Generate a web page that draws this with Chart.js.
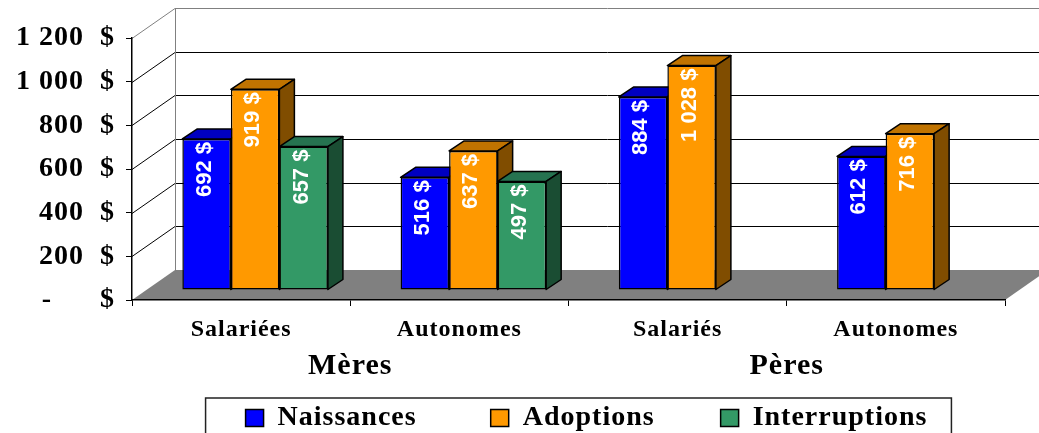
<!DOCTYPE html>
<html>
<head>
<meta charset="utf-8">
<script src="https://cdn.jsdelivr.net/npm/chart.js@4/dist/chart.umd.min.js"></script>
<style>
body{margin:0;background:#fff;}
#wrap{width:1039px;height:433px;position:relative;}
</style>
</head>
<body>
<div id="wrap"><canvas id="barChart"></canvas></div>
<script>

const categories = ['Salariées','Autonomes','Salariés','Autonomes'];
const groups = ['Mères','Pères'];
const seriesNames = ['Naissances','Adoptions','Interruptions'];
const naissances = [692,516,884,612];
const adoptions = [919,637,1028,716];
const interruptions = [657,497,null,null];
const yTicks = [0,200,400,600,800,1000,1200];

const frontColors = ['#0000FF','#FF9900','#339966'];
const topColors = ['#0000C0','#C07300','#267350'];
const sideColors = ['#000080','#804D00','#1A4D33'];

// offsets of the fake 3d
const FRONT = {x:14, y:-10};
const DEPTH = {x:15, y:-10};
const WALL = {x:43, y:-30};
const LEGEND_SHIFT = 18;
const legendGaps = [8,7,0];

const serif = '"Liberation Serif", "Times New Roman", serif';

function money(v){
    return String(v).replace(/\B(?=(\d{3})+(?!\d))/g, ' ');
}

function poly(ctx, pts, fill){
    ctx.beginPath();
    ctx.moveTo(pts[0][0], pts[0][1]);
    for(let k = 1; k < pts.length; k++){
        ctx.lineTo(pts[k][0], pts[k][1]);
    }
    ctx.closePath();
    ctx.fillStyle = fill;
    ctx.fill();
    ctx.stroke();
}

const threeD = {

    id:'threeD',

    beforeLayout(chart){
        chart.ctx.letterSpacing = '1px';
    },

    afterLayout(chart){
        chart.legend.left += LEGEND_SHIFT;
        chart.legend.right += LEGEND_SHIFT;
    },

    beforeDraw(chart){

        let ctx = chart.ctx;
        let a = chart.chartArea;
        let ys = chart.scales.y;

        ctx.save();

        ctx.fillStyle = '#808080';
        ctx.beginPath();
        ctx.moveTo(a.left, a.bottom);
        ctx.lineTo(a.left + WALL.x, a.bottom + WALL.y);
        ctx.lineTo(a.right + WALL.x, a.bottom + WALL.y);
        ctx.lineTo(a.right, a.bottom);
        ctx.closePath();
        ctx.fill();

        ctx.lineWidth = 1;
        ctx.strokeStyle = '#000';
        yTicks.forEach(v => {
            if(v === 0 || v === yTicks[yTicks.length - 1]) return;
            let py = Math.round(ys.getPixelForValue(v)) + 0.5;
            ctx.beginPath();
            ctx.moveTo(a.left, py);
            ctx.lineTo(a.left + WALL.x, py + WALL.y);
            ctx.lineTo(a.right + WALL.x + 50, py + WALL.y);
            ctx.stroke();
        });

        let top = Math.round(a.top) + 0.5;
        ctx.strokeStyle = '#808080';
        ctx.beginPath();
        ctx.moveTo(a.left, top);
        ctx.lineTo(a.left + WALL.x, top + WALL.y);
        ctx.lineTo(a.right + WALL.x + 50, top + WALL.y);
        ctx.moveTo(a.left + WALL.x + 0.5, top + WALL.y);
        ctx.lineTo(a.left + WALL.x + 0.5, a.bottom + WALL.y);
        ctx.stroke();

        ctx.restore();
    },

    beforeDatasetsDraw(chart){

        let ctx = chart.ctx;
        let metas = seriesNames.map((n, i) => chart.getDatasetMeta(i));

        categories.forEach((c, j) => {
            metas.forEach((meta, i) => {

                let value = chart.data.datasets[i].data[j];
                if(value === null) return;

                let bar = meta.data[j];
                let p = bar.getProps(['x','y','base','width'], true);
                let l = p.x - p.width / 2 + FRONT.x;
                let r = p.x + p.width / 2 + FRONT.x;
                let t = p.y + FRONT.y;
                let b = p.base + FRONT.y;

                ctx.save();
                ctx.translate(FRONT.x, FRONT.y);
                bar.draw(ctx);
                ctx.restore();

                ctx.save();
                ctx.lineWidth = 1.5;
                ctx.strokeStyle = '#000';
                ctx.lineJoin = 'round';
                poly(ctx, [[l,t],[r,t],[r + DEPTH.x, t + DEPTH.y],[l + DEPTH.x, t + DEPTH.y]], topColors[i]);
                poly(ctx, [[r,t],[r + DEPTH.x, t + DEPTH.y],[r + DEPTH.x, b + DEPTH.y],[r,b]], sideColors[i]);

                ctx.translate((l + r) / 2 - 2, t + 3);
                ctx.rotate(-Math.PI / 2);
                ctx.letterSpacing = '0px';
                ctx.font = 'bold 22px "Liberation Sans", Arial, sans-serif';
                ctx.fillStyle = '#fff';
                ctx.textAlign = 'right';
                ctx.textBaseline = 'middle';
                ctx.fillText(money(value) + ' $', 0, 0);
                ctx.restore();
            });
        });

        return false;
    },

    afterDraw(chart){

        let ctx = chart.ctx;
        let boxes = chart.legend.legendHitBoxes;
        let first = boxes[0];
        let last = boxes[boxes.length - 1];
        let x0 = first.left - 40;
        let x1 = last.left + last.width + 24;

        ctx.save();
        ctx.strokeStyle = '#222';
        ctx.lineWidth = 1.5;
        ctx.strokeRect(x0, first.top - 6, x1 - x0, 80);
        ctx.restore();
    }
};

const ctxBar = document.getElementById('barChart');

new Chart(ctxBar, {

    type:'bar',

    data:{
        labels:categories,
        datasets:[
            {label:seriesNames[0], data:naissances, backgroundColor:frontColors[0]},
            {label:seriesNames[1], data:adoptions, backgroundColor:frontColors[1]},
            {label:seriesNames[2], data:interruptions, backgroundColor:frontColors[2]}
        ]
    },

    options:{
        responsive:true,
        maintainAspectRatio:false,
        animation:false,
        events:[],
        layout:{
            padding:{top:38, right:34, bottom:-9, left:0}
        },
        datasets:{
            bar:{
                categoryPercentage:0.667,
                barPercentage:1,
                borderColor:'#000',
                borderWidth:1.5,
                borderSkipped:false
            }
        },
        scales:{
            x:{
                offset:true,
                grid:{offset:true, drawOnChartArea:false, tickLength:6, color:'#000'},
                border:{color:'#000', width:1.5},
                ticks:{color:'#000', padding:9, font:{family:serif, size:24, weight:'bold'}},
                afterFit(s){ s.height = 38; }
            },
            x2:{
                type:'category',
                labels:groups,
                position:'bottom',
                offset:true,
                weight:1,
                grid:{display:false},
                border:{display:false},
                ticks:{color:'#000', padding:2, font:{family:serif, size:30, weight:'bold'}},
                afterFit(s){ s.height = 56; }
            },
            y:{
                min:0,
                max:1200,
                grid:{drawOnChartArea:false, tickLength:6, color:'#000'},
                border:{color:'#000', width:1.5},
                afterBuildTicks(s){ s.ticks = yTicks.map(v => ({value:v})); },
                ticks:{
                    color:'#000',
                    padding:11,
                    font:{family:serif, size:28, weight:'bold'},
                    callback(v){
                        if(v === 0) return '-      $';
                        return money(v) + '  $';
                    }
                },
                afterFit(s){ s.width = 132; }
            }
        },
        plugins:{
            tooltip:{enabled:false},
            legend:{
                position:'bottom',
                fullSize:false,
                labels:{
                    color:'#000',
                    boxWidth:18,
                    boxHeight:17,
                    padding:10,
                    font:{family:serif, size:28, weight:'bold'},
                    generateLabels(chart){
                        let items = Chart.defaults.plugins.legend.labels.generateLabels(chart);
                        items.forEach((it, k) => {
                            it.text = it.text + ' '.repeat(legendGaps[k]);
                        });
                        return items;
                    }
                }
            }
        }
    },

    plugins:[threeD]
});

</script>
</body>
</html>
